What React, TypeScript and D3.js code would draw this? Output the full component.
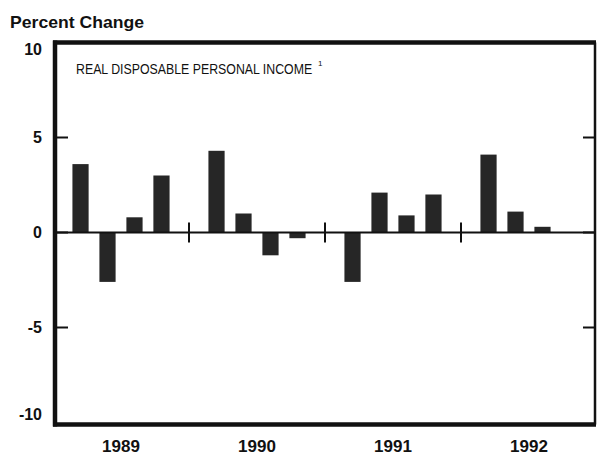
import React, { useLayoutEffect, useRef, useState } from "react";
import * as d3 from "d3";

const years = ["1989", "1990", "1991", "1992"];
const quarters = ["Q1", "Q2", "Q3", "Q4"];
const values: (number | null)[][] = [
  [3.6, -2.6, 0.8, 3.0],
  [4.3, 1.0, -1.2, -0.3],
  [-2.6, 2.1, 0.9, 2.0],
  [4.1, 1.1, 0.3, null],
];
const yTicks = [10, 5, 0, -5, -10];
const title = "REAL DISPOSABLE PERSONAL INCOME";
const footnote = "1";
const yLabel = "Percent Change";

const W = 597;
const H = 455;
const left = 55;
const right = 595;
const top = 42.5;
const bottom = 422.5;
const titleWidth = 236;

export default function App() {
  const titleRef = useRef<SVGTextElement>(null);
  const [sx, setSx] = useState(0.88);
  useLayoutEffect(() => {
    if (titleRef.current) {
      const w = titleRef.current.getComputedTextLength();
      if (w > 0) setSx(titleWidth / w);
    }
  }, []);

  const y = d3.scaleLinear().domain([-10, 10]).range([bottom, top]);
  const xYear = d3.scaleBand<string>().domain(years).range([53, 597]).padding(0);
  const xQ = d3
    .scaleBand<string>()
    .domain(quarters)
    .range([0, xYear.bandwidth()])
    .paddingInner(0.4)
    .paddingOuter(0.72);
  const font = "'Liberation Sans', Arial, Helvetica, sans-serif";
  const barColor = "#262626";
  const ink = "#111";

  return (
    <svg width={W} height={H} style={{ position: "absolute", left: 0, top: 0, background: "#fff" }}>
      <rect x={0} y={0} width={W} height={H} fill="#fff" />
      <text x={10} y={28} fontFamily={font} fontSize={17} fontWeight="bold" fill={ink}
        textLength={134} lengthAdjust="spacingAndGlyphs">{yLabel}</text>
      {/* bars */}
      {years.map((yr, i) =>
        quarters.map((q, j) => {
          const v = values[i][j];
          if (v === null) return null;
          const x0 = (xYear(yr) as number) + (xQ(q) as number);
          const y0 = y(Math.max(0, v));
          const h = Math.abs(y(v) - y(0));
          return <rect key={yr + q} x={x0} y={y0} width={xQ.bandwidth()} height={h} fill={barColor} />;
        })
      )}
      {/* zero line */}
      <line x1={left} x2={right} y1={y(0)} y2={y(0)} stroke={ink} strokeWidth={2} />
      {/* year separators */}
      {years.slice(1).map((yr) => (
        <line key={yr} x1={xYear(yr)} x2={xYear(yr)} y1={y(0) - 10} y2={y(0) + 10} stroke={ink} strokeWidth={2} />
      ))}
      {/* ticks */}
      {yTicks.filter((t) => t !== 10 && t !== -10).map((t) => (
        <g key={t}>
          <line x1={left} x2={68} y1={y(t)} y2={y(t)} stroke={ink} strokeWidth={2} />
          <line x1={583} x2={right} y1={y(t)} y2={y(t)} stroke={ink} strokeWidth={2} />
        </g>
      ))}
      {/* frame */}
      <line x1={left} x2={left} y1={top - 2} y2={bottom + 4} stroke={ink} strokeWidth={4.5} />
      <line x1={left - 2} x2={right + 1} y1={top} y2={top} stroke={ink} strokeWidth={4.5} />
      <line x1={left - 2} x2={right + 1} y1={bottom + 2} y2={bottom + 2} stroke={ink} strokeWidth={4.5} />
      <line x1={right} x2={right} y1={top} y2={bottom + 2} stroke={ink} strokeWidth={2.5} />
      {/* y labels */}
      {yTicks.map((t) => (
        <text key={t} x={42} y={Math.min(Math.max(y(t), 49), 414)} dy="0.36em" textAnchor="end"
          fontFamily={font} fontSize={16} fontWeight="bold" fill={ink}>
          {t < 0 ? "-" + Math.abs(t) : t}
        </text>
      ))}
      {/* year labels */}
      {years.map((yr) => (
        <text key={yr} x={(xYear(yr) as number) + xYear.bandwidth() / 2} y={452} textAnchor="middle"
          fontFamily={font} fontSize={17} fontWeight="bold" fill={ink}>
          {yr}
        </text>
      ))}
      {/* title with footnote */}
      <g transform={`translate(76,74) scale(${sx},1)`}>
        <text ref={titleRef} x={0} y={0} fontFamily={font} fontSize={14} fill={ink}>{title}</text>
      </g>
      <text x={76 + titleWidth + 6} y={66} fontFamily={font} fontSize={8} fill={ink}>{footnote}</text>
    </svg>
  );
}
